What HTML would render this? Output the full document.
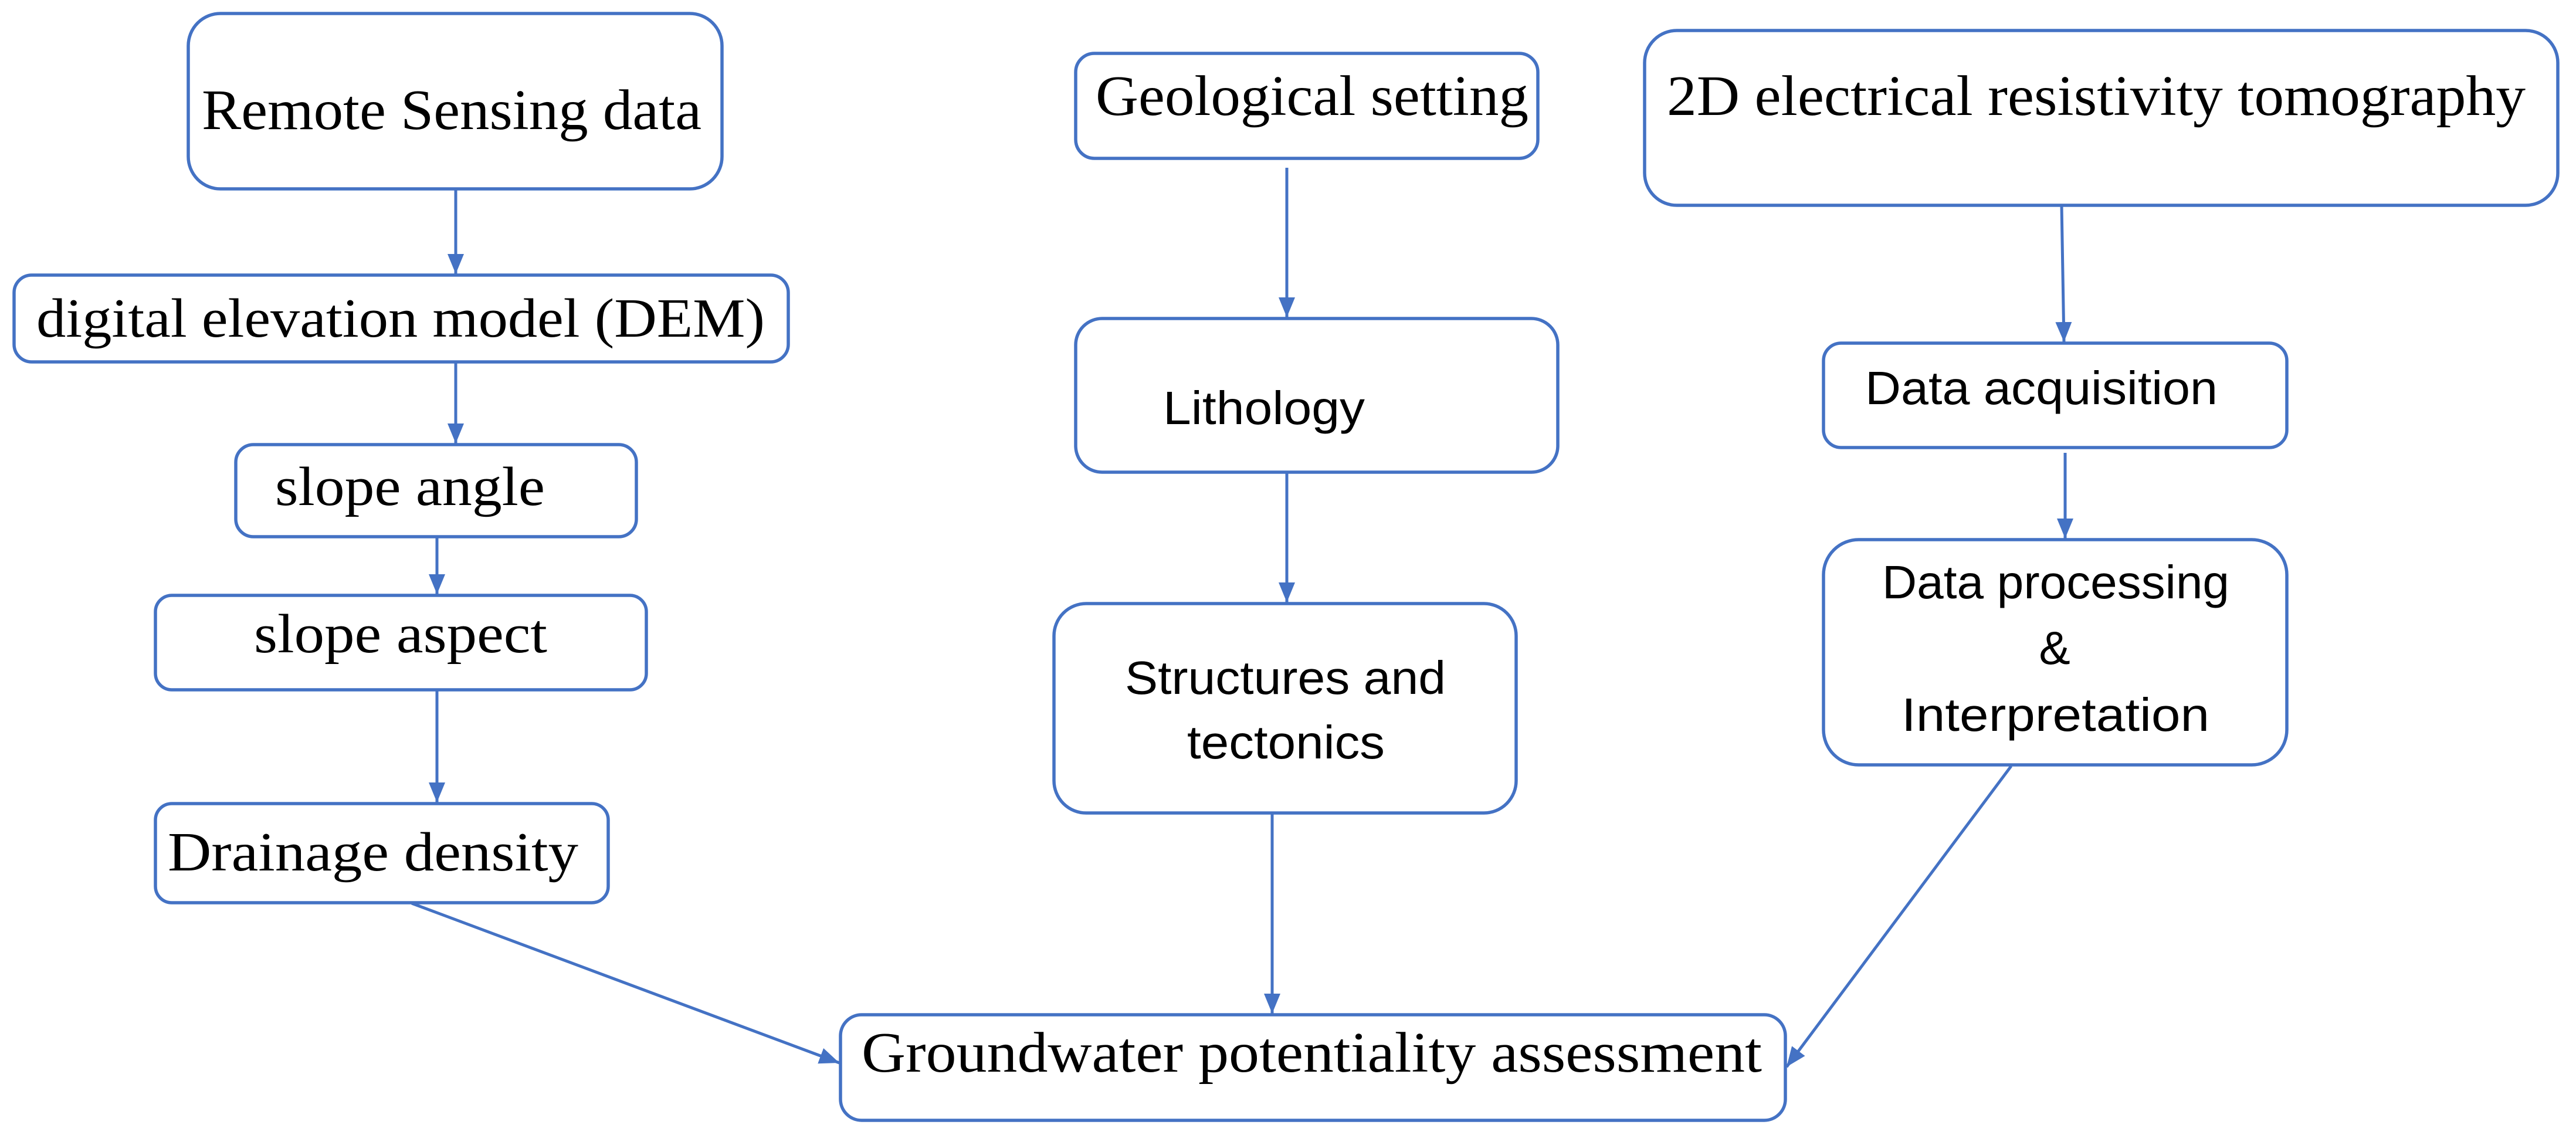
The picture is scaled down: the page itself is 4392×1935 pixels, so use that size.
<!DOCTYPE html>
<html><head><meta charset="utf-8"><style>
html,body{margin:0;padding:0;background:#fff;}
svg{display:block;}
.b{fill:#fff;stroke:#4472C4;stroke-width:5.5;}
.l{stroke:#4472C4;stroke-width:5;fill:none;}
.s{font-family:"Liberation Serif",serif;fill:#000;}
.n{font-family:"Liberation Sans",sans-serif;fill:#000;}
</style></head><body>
<svg width="4392" height="1935" viewBox="0 0 4392 1935" xmlns="http://www.w3.org/2000/svg">
<defs>
<marker id="m" viewBox="0 0 34 34" refX="34" refY="17" markerWidth="34" markerHeight="34" markerUnits="userSpaceOnUse" orient="auto">
<path d="M0,3 L34,17 L0,31 z" fill="#4472C4"/>
</marker>
</defs>

<rect class="b" x="321" y="23" width="910" height="299" rx="55"/>
<rect class="b" x="24" y="469" width="1320" height="148" rx="30"/>
<rect class="b" x="402" y="758" width="683" height="157" rx="30"/>
<rect class="b" x="265" y="1015" width="837" height="161" rx="28"/>
<rect class="b" x="265" y="1370" width="772" height="169" rx="28"/>
<rect class="b" x="1433" y="1730" width="1611" height="180" rx="36"/>
<rect class="b" x="1797" y="1029" width="788" height="357" rx="55"/>
<rect class="b" x="1834" y="91" width="788" height="179" rx="32"/>
<rect class="b" x="1834" y="543" width="822" height="262" rx="45"/>
<rect class="b" x="2804" y="52" width="1557" height="298" rx="55"/>
<rect class="b" x="3109" y="585" width="790" height="178" rx="30"/>
<rect class="b" x="3109" y="920" width="790" height="384" rx="60"/>

<line class="l" x1="777" y1="322" x2="777" y2="467" marker-end="url(#m)"/>
<line class="l" x1="777" y1="617" x2="777" y2="756" marker-end="url(#m)"/>
<line class="l" x1="745" y1="915" x2="745" y2="1013" marker-end="url(#m)"/>
<line class="l" x1="745" y1="1176" x2="745" y2="1368" marker-end="url(#m)"/>
<line class="l" x1="702" y1="1540" x2="1431" y2="1812" marker-end="url(#m)"/>
<line class="l" x1="2169" y1="1386" x2="2169" y2="1728" marker-end="url(#m)"/>
<line class="l" x1="2194" y1="286" x2="2194" y2="541" marker-end="url(#m)"/>
<line class="l" x1="2194" y1="805" x2="2194" y2="1027" marker-end="url(#m)"/>
<line class="l" x1="3515" y1="350" x2="3519" y2="583" marker-end="url(#m)"/>
<line class="l" x1="3521" y1="772" x2="3521" y2="918" marker-end="url(#m)"/>
<line class="l" x1="3429" y1="1306" x2="3046" y2="1819" marker-end="url(#m)"/>

<text class="s" x="344" y="220" font-size="98" textLength="852" lengthAdjust="spacingAndGlyphs">Remote Sensing data</text>
<text class="s" x="62" y="574" font-size="94" textLength="1242" lengthAdjust="spacingAndGlyphs">digital elevation model (DEM)</text>
<text class="s" x="469" y="861" font-size="94" textLength="460" lengthAdjust="spacingAndGlyphs">slope angle</text>
<text class="s" x="433" y="1112" font-size="94" textLength="500" lengthAdjust="spacingAndGlyphs">slope aspect</text>
<text class="s" x="286" y="1484" font-size="94" textLength="700" lengthAdjust="spacingAndGlyphs">Drainage density</text>
<text class="s" x="1469" y="1827" font-size="98" textLength="1535" lengthAdjust="spacingAndGlyphs">Groundwater potentiality assessment</text>
<text class="s" x="1868" y="196" font-size="98" textLength="738" lengthAdjust="spacingAndGlyphs">Geological setting</text>
<text class="s" x="2842" y="196" font-size="98" textLength="1464" lengthAdjust="spacingAndGlyphs">2D electrical resistivity tomography</text>
<text class="n" x="1983" y="723" font-size="80" textLength="344" lengthAdjust="spacingAndGlyphs">Lithology</text>
<text class="n" x="1918" y="1183" font-size="80" textLength="547" lengthAdjust="spacingAndGlyphs">Structures and</text>
<text class="n" x="2024" y="1293" font-size="80" textLength="337" lengthAdjust="spacingAndGlyphs">tectonics</text>
<text class="n" x="3180" y="689" font-size="80" textLength="601" lengthAdjust="spacingAndGlyphs">Data acquisition</text>
<text class="n" x="3209" y="1020" font-size="80" textLength="592" lengthAdjust="spacingAndGlyphs">Data processing</text>
<text class="n" x="3503" y="1132" font-size="80" text-anchor="middle">&amp;</text>
<text class="n" x="3242" y="1246" font-size="80" textLength="525" lengthAdjust="spacingAndGlyphs">Interpretation</text>
</svg>
</body></html>
